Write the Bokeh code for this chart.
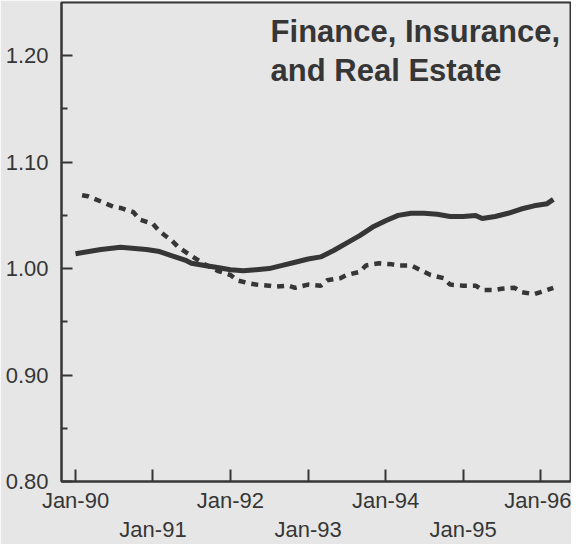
from datetime import datetime
from bokeh.plotting import figure
from bokeh.models import ColumnDataSource, Range1d, FixedTicker, DatetimeAxis, Label
from bokeh.embed import file_html
from bokeh.resources import INLINE

# values (monthly points, index 1990 = 1.00)
solid_months = ["1990-01", "1990-05", "1990-08", "1990-12", "1991-02", "1991-04", "1991-06",
                "1991-07", "1991-09", "1991-11", "1992-01", "1992-03", "1992-05", "1992-07",
                "1992-09", "1992-11", "1993-01", "1993-03", "1993-05", "1993-07", "1993-09",
                "1993-11", "1994-01", "1994-03", "1994-05", "1994-07", "1994-09", "1994-11",
                "1995-01", "1995-03", "1995-04", "1995-06", "1995-08", "1995-10", "1995-12",
                "1996-02", "1996-03"]
solid_values = [1.014, 1.018, 1.020, 1.018, 1.016, 1.012, 1.008,
                1.005, 1.003, 1.001, 0.999, 0.998, 0.999, 1.000,
                1.003, 1.006, 1.009, 1.011, 1.017, 1.024, 1.031,
                1.039, 1.045, 1.050, 1.052, 1.052, 1.051, 1.049,
                1.049, 1.050, 1.047, 1.049, 1.052, 1.056, 1.059,
                1.061, 1.065]

dashed_months = ["1990-02", "1990-03", "1990-05", "1990-07", "1990-08", "1990-10", "1990-11",
                 "1991-01", "1991-02", "1991-04", "1991-05", "1991-07", "1991-09", "1991-11",
                 "1992-01", "1992-02", "1992-04", "1992-05", "1992-07", "1992-08", "1992-10",
                 "1992-11", "1993-01", "1993-03", "1993-04", "1993-06", "1993-07", "1993-09",
                 "1993-10", "1993-12", "1994-02", "1994-03", "1994-05", "1994-07", "1994-08",
                 "1994-10", "1994-11", "1995-01", "1995-03", "1995-04", "1995-06", "1995-07",
                 "1995-09", "1995-10", "1995-12", "1996-01", "1996-03"]
dashed_values = [1.069, 1.068, 1.063, 1.058, 1.057, 1.053, 1.046,
                 1.042, 1.035, 1.026, 1.020, 1.012, 1.004, 0.998,
                 0.994, 0.989, 0.986, 0.985, 0.984, 0.983, 0.984,
                 0.982, 0.985, 0.984, 0.989, 0.991, 0.994, 0.997,
                 1.003, 1.005, 1.004, 1.003, 1.003, 0.997, 0.994,
                 0.991, 0.985, 0.984, 0.984, 0.980, 0.980, 0.981,
                 0.982, 0.978, 0.976, 0.978, 0.982]

tick_years = [1990, 1991, 1992, 1993, 1994, 1995, 1996]
tick_labels = ["Jan-90", "Jan-91", "Jan-92", "Jan-93", "Jan-94", "Jan-95", "Jan-96"]
y_ticks = [0.80, 0.90, 1.00, 1.10, 1.20]
y_minor = [0.85, 0.95, 1.05, 1.15]
title_lines = ["Finance, Insurance,", "and Real Estate"]

EPOCH = datetime(1970, 1, 1)
def ms(d):
    return (d - EPOCH).total_seconds() * 1000.0

ink = "#363636"
bg = "#e6e6e6"
font = "Liberation Sans"

solid = ColumnDataSource(dict(x=[datetime.strptime(m, "%Y-%m") for m in solid_months], y=solid_values))
dashed = ColumnDataSource(dict(x=[datetime.strptime(m, "%Y-%m") for m in dashed_months], y=dashed_values))

p = figure(width=571, height=544, x_axis_type="datetime", output_backend="svg",
           toolbar_location=None, tools="",
           x_range=Range1d(datetime(1989, 10, 27), datetime(1996, 5, 21)),
           y_range=Range1d(0.80, 1.25),
           min_border_left=61, min_border_right=1, min_border_top=2, min_border_bottom=58)
p.background_fill_color = bg
p.border_fill_color = bg
p.outline_line_color = ink
p.outline_line_width = 2
p.grid.visible = False

p.line("x", "y", source=dashed, line_color=ink, line_width=4.5, line_dash="7 6")
p.line("x", "y", source=solid, line_color=ink, line_width=5)

# y axis
yax = p.yaxis[0]
yax.ticker = FixedTicker(ticks=y_ticks, minor_ticks=y_minor)
yax.major_label_overrides = {t: "%.2f" % t for t in y_ticks}
yax.axis_line_color = ink
yax.axis_line_width = 2
yax.major_tick_in = 11
yax.major_tick_out = 0
yax.minor_tick_in = 6
yax.minor_tick_out = 0
yax.major_tick_line_color = ink
yax.major_tick_line_width = 2
yax.minor_tick_line_color = ink
yax.minor_tick_line_width = 2
yax.major_label_standoff = 13
yax.major_label_text_font = font
yax.major_label_text_font_size = "22px"
yax.major_label_text_color = ink

# x axis: even years on the first row, odd years on a second row
year_ms = [ms(datetime(y, 1, 1)) for y in tick_years]
xax = p.xaxis[0]
xax.ticker = FixedTicker(ticks=year_ms)
xax.major_label_overrides = {t: (lab if i % 2 == 0 else "") for i, (t, lab) in enumerate(zip(year_ms, tick_labels))}
xax.axis_line_color = ink
xax.axis_line_width = 2
xax.major_tick_in = 12
xax.major_tick_out = 0
xax.minor_tick_line_color = None
xax.major_tick_line_color = ink
xax.major_tick_line_width = 2
xax.major_label_standoff = 6
xax.major_label_text_font = font
xax.major_label_text_font_size = "22px"
xax.major_label_text_color = ink

odd = [t for i, t in enumerate(year_ms) if i % 2 == 1]
xax2 = DatetimeAxis(ticker=FixedTicker(ticks=odd),
                    major_label_overrides={t: lab for i, (t, lab) in enumerate(zip(year_ms, tick_labels)) if i % 2 == 1},
                    axis_line_color=None, major_tick_line_color=None, minor_tick_line_color=None,
                    major_tick_in=0, major_tick_out=0, major_label_standoff=1,
                    major_label_text_font=font, major_label_text_font_size="22px",
                    major_label_text_color=ink)
p.add_layout(xax2, "below")

# title inside the plot
tx = ms(datetime(1992, 7, 8))
for txt, yv in zip(title_lines, [1.223, 1.186]):
    p.add_layout(Label(x=tx, y=yv, text=txt, text_align="left", text_baseline="alphabetic",
                       text_font=font, text_font_style="bold", text_font_size="31px",
                       text_color=ink))

open("out.html", "w").write(file_html(p, INLINE))
